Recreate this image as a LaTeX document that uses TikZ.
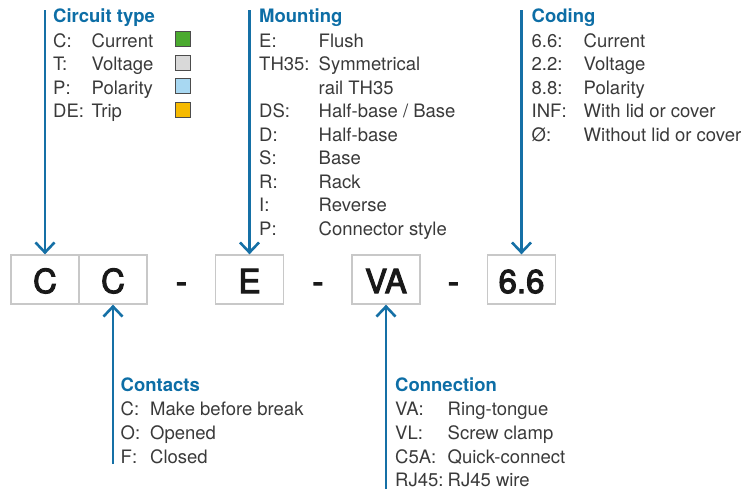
\documentclass[tikz,border=0pt]{standalone}
\usepackage{fontspec}
\setmainfont{TeX Gyre Heros}
\newfontfamily\boxface[FakeBold=3.2]{TeX Gyre Heros}
\usetikzlibrary{arrows.meta}
\definecolor{txt}{HTML}{3A3A3A}
\definecolor{ttl}{HTML}{0D6EA6}
\definecolor{lnc}{HTML}{1570A6}
\definecolor{bxg}{HTML}{C8C8C8}
\definecolor{sqgreen}{HTML}{4BAA2F}
\definecolor{sqgray}{HTML}{D9D9D9}
\definecolor{sqblue}{HTML}{A8D8F2}
\definecolor{sqorange}{HTML}{F6BA00}
\newcommand{\bodyfont}{\fontsize{18.5}{23.5}\selectfont}
\newcommand{\bigfont}{\boxface\fontsize{33}{36}\selectfont}
\tikzset{
  lbl/.style={anchor=base west, inner sep=0pt, font=\bodyfont, text=txt},
  ttlbl/.style={anchor=base west, inner sep=0pt, font=\bodyfont\bfseries, text=ttl},
  codebox/.style={draw=bxg, line width=1.3pt, minimum width=68pt, minimum height=49pt,
    inner sep=0pt, font=\bigfont, text=black!90, text height=27pt, text depth=0pt},
  dashlbl/.style={anchor=base, inner sep=0pt, font=\bigfont, text=black!90},
  pointer/.style={draw=lnc, line width=2.6pt, -{Straight Barb[length=10pt,width=19pt]}},
  swatch/.style={draw=black!70, line width=0.8pt, minimum size=15pt, inner sep=0pt}
}
\begin{document}
\begin{tikzpicture}[x=1pt,y=-1pt]
\useasboundingbox (0,0) rectangle (745,491);

% code boxes
\node[codebox] (c1) at (45,279.5) {C};
\node[codebox] (c2) at (113,279.5) {C};
\node[codebox] (e) at (249.5,279.5) {E};
\node[codebox] (va) at (386,279.5) {VA};
\node[codebox] (cod) at (521.5,279.5) {6.6};
\node[dashlbl] (d1) at (181.5,293) {-};
\node[dashlbl] (d2) at (318,293) {-};
\node[dashlbl] (d3) at (453.5,293) {-};

% pointer ends
\coordinate (t1) at (45,10);
\coordinate (t2) at (249.5,10);
\coordinate (t3) at (521.5,10);
\coordinate (b1) at (113,464);
\coordinate (b2) at (386,489);
\draw[pointer] (t1) -- (c1.north);
\draw[pointer] (t2) -- (e.north);
\draw[pointer] (t3) -- (cod.north);
\draw[pointer] (b1) -- (c2.south);
\draw[pointer] (b2) -- (va.south);

% Circuit type
\node[ttlbl] (ct) at (53,22) {Circuit type};
\node[lbl] (ct1a) at (53,47) {C:};
\node[lbl] (ct1b) at (91.5,47) {Current};
\node[lbl] (ct2a) at (53,70.5) {T:};
\node[lbl] (ct2b) at (91.5,70.5) {Voltage};
\node[lbl] (ct3a) at (53,94) {P:};
\node[lbl] (ct3b) at (91.5,94) {Polarity};
\node[lbl] (ct4a) at (53,117.5) {DE:};
\node[lbl] (ct4b) at (91.5,117.5) {Trip};
\node[swatch, fill=sqgreen] (s1) at (182.8,39) {};
\node[swatch, fill=sqgray] (s2) at (182.8,62.5) {};
\node[swatch, fill=sqblue] (s3) at (182.8,86) {};
\node[swatch, fill=sqorange] (s4) at (182.8,109.5) {};

% Mounting
\node[ttlbl] (mt) at (259,22) {Mounting};
\node[lbl] (m1a) at (259,47) {E:};
\node[lbl] (m1b) at (318.5,47) {Flush};
\node[lbl] (m2a) at (259,70.5) {TH35:};
\node[lbl] (m2b) at (318.5,70.5) {Symmetrical};
\node[lbl] (m3b) at (318.5,94) {rail TH35};
\node[lbl] (m4a) at (259,117.5) {DS:};
\node[lbl] (m4b) at (318.5,117.5) {Half-base / Base};
\node[lbl] (m5a) at (259,141) {D:};
\node[lbl] (m5b) at (318.5,141) {Half-base};
\node[lbl] (m6a) at (259,164.5) {S:};
\node[lbl] (m6b) at (318.5,164.5) {Base};
\node[lbl] (m7a) at (259,188) {R:};
\node[lbl] (m7b) at (318.5,188) {Rack};
\node[lbl] (m8a) at (259,211.5) {I:};
\node[lbl] (m8b) at (318.5,211.5) {Reverse};
\node[lbl] (m9a) at (259,235) {P:};
\node[lbl] (m9b) at (318.5,235) {Connector style};

% Coding
\node[ttlbl] (cdt) at (531.5,22) {Coding};
\node[lbl] (k1a) at (531.5,47) {6.6:};
\node[lbl] (k1b) at (583.5,47) {Current};
\node[lbl] (k2a) at (531.5,70.5) {2.2:};
\node[lbl] (k2b) at (583.5,70.5) {Voltage};
\node[lbl] (k3a) at (531.5,94) {8.8:};
\node[lbl] (k3b) at (583.5,94) {Polarity};
\node[lbl] (k4a) at (531.5,117.5) {INF:};
\node[lbl] (k4b) at (583.5,117.5) {With lid or cover};
\node[lbl] (k5a) at (531.5,141) {Ø:};
\node[lbl] (k5b) at (583.5,141) {Without lid or cover};

% Contacts
\node[ttlbl] (cnt) at (120.5,391.5) {Contacts};
\node[lbl] (n1a) at (120.5,415.5) {C:};
\node[lbl] (n1b) at (150,415.5) {Make before break};
\node[lbl] (n2a) at (120.5,439.2) {O:};
\node[lbl] (n2b) at (150,439.2) {Opened};
\node[lbl] (n3a) at (120.5,463) {F:};
\node[lbl] (n3b) at (150,463) {Closed};

% Connection
\node[ttlbl] (cnx) at (395,391.5) {Connection};
\node[lbl] (x1a) at (395,415.5) {VA:};
\node[lbl] (x1b) at (447.5,415.5) {Ring-tongue};
\node[lbl] (x2a) at (395,439.2) {VL:};
\node[lbl] (x2b) at (447.5,439.2) {Screw clamp};
\node[lbl] (x3a) at (395,463) {C5A:};
\node[lbl] (x3b) at (447.5,463) {Quick-connect};
\node[lbl] (x4a) at (395,486.7) {RJ45:};
\node[lbl] (x4b) at (447.5,486.7) {RJ45 wire};
\end{tikzpicture}
\end{document}
